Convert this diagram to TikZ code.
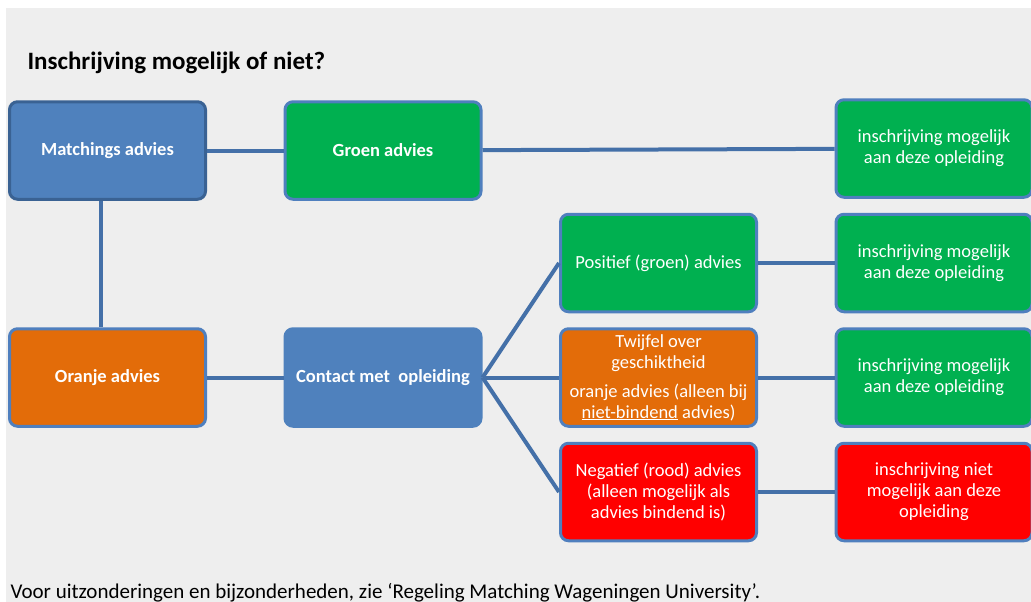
\documentclass[tikz,border=0pt]{standalone}
\usepackage{fontspec}
\setmainfont{Carlito}
\usepackage{tikz}
\usetikzlibrary{positioning}

\definecolor{bgGray}{HTML}{EEEEEE}
\definecolor{boxBlue}{HTML}{4F81BD}
\definecolor{edgeDark}{HTML}{3A6293}
\definecolor{edgeBlue}{HTML}{4F7FBE}
\definecolor{lineBlue}{HTML}{4470A8}
\definecolor{advGreen}{HTML}{00B050}
\definecolor{advOrange}{HTML}{E36C09}
\definecolor{advRed}{HTML}{FF0000}

\begin{document}
\begin{tikzpicture}[x=1pt, y=-1pt,
        node distance = 14pt and 76.5pt,
        box/.style = {rounded corners=8pt, draw=edgeBlue, line width=3pt,
            minimum width=196pt, minimum height=97.5pt, inner sep=2pt,
            text=white, align=center, font=\fontsize{18.5}{21}\selectfont},
        link/.style = {draw=lineBlue, line width=4pt}]
        \useasboundingbox (0,0) rectangle (1031,602);
        \fill[bgGray] (6,8) rectangle (1031,602);

        \node[anchor=base west, font=\bfseries\fontsize{25}{30}\selectfont] (titel) at (24,70) {Inschrijving mogelijk of niet?};

        \node(match)[box, fill=boxBlue, draw=edgeDark] at (107.5,150.5) {\bfseries Matchings advies};
        \node(groen)[box, fill=advGreen, right = of match] {\bfseries Groen advies};
        \node(oranje)[box, fill=advOrange, below = 126.5pt of match] {\bfseries Oranje advies};
        \node(contact)[box, fill=boxBlue, draw=boxBlue, right = of oranje] {\bfseries Contact met\ \ opleiding};
        \node(twijfel)[box, fill=advOrange, right = of contact] {Twijfel over\\geschiktheid\\[8pt]oranje advies (alleen bij\\\underline{niet-bindend} advies)};
        \node(positief)[box, fill=advGreen, above = of twijfel] {Positief (groen) advies};
        \node(negatief)[box, fill=advRed, below = of twijfel] {Negatief (rood) advies\\(alleen mogelijk als\\advies bindend is)};

        \node(ok2)[box, fill=advGreen, right = of positief] {inschrijving mogelijk\\aan deze opleiding};
        \node(ok3)[box, fill=advGreen, right = of twijfel] {inschrijving mogelijk\\aan deze opleiding};
        \node(nee)[box, fill=advRed, right = of negatief] {inschrijving niet\\mogelijk aan deze\\opleiding};
        \node(ok1)[box, fill=advGreen, above = of ok2] {inschrijving mogelijk\\aan deze opleiding};

        \draw[link] (match) -- (groen);
        \draw[link] (groen) -- (ok1);
        \draw[link] ([xshift=-7pt]match.south) -- ([xshift=-7pt]oranje.north);
        \draw[link] (oranje) -- (contact);
        \draw[link] (contact.east) -- (positief.west);
        \draw[link] (contact.east) -- (twijfel.west);
        \draw[link] (contact.east) -- (negatief.west);
        \draw[link] (positief) -- (ok2);
        \draw[link] (twijfel) -- (ok3);
        \draw[link] (negatief) -- (nee);

        \node[anchor=base west, font=\fontsize{21}{25}\selectfont] (voetnoot) at (7,598.5) {Voor uitzonderingen en bijzonderheden, zie ‘Regeling Matching Wageningen University’.};
    \end{tikzpicture}
\end{document}
